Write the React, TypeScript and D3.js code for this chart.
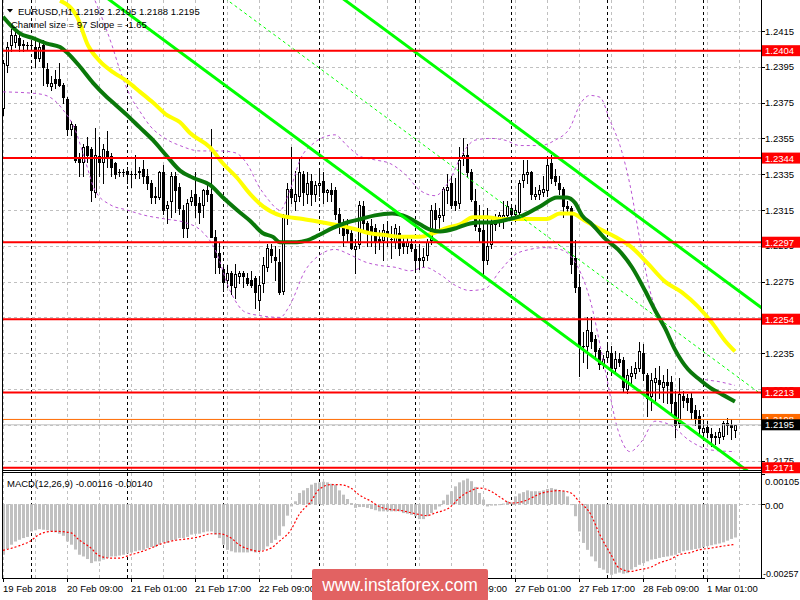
import React from "react";
import * as d3 from "d3";

const W = 800;
const H = 600;

// ---- candle data (EURUSD H1) ----
const opens = [
  1.2372,1.2396,1.2407,1.2409,1.2411,1.2407,1.2407,1.2407,1.2406,1.2400,
  1.2407,1.2394,1.2384,1.2388,1.2388,1.2385,1.2377,1.2360,1.2362,1.2344,
  1.2342,1.2351,1.2349,1.2325,1.2345,1.2342,1.2348,1.2345,1.2341,1.2336,
  1.2336,1.2337,1.2335,1.2335,1.2336,1.2338,1.2334,1.2330,1.2322,1.2322,
  1.2336,1.2316,1.2320,1.2334,1.2328,1.2315,1.2305,1.2320,1.2324,1.2319,
  1.2318,1.2326,1.2324,1.2300,1.2291,1.2282,1.2276,1.2280,1.2272,1.2278,
  1.2280,1.2277,1.2276,1.2277,1.2265,1.2274,1.2283,1.2293,1.2289,1.2286,
  1.2270,1.2312,1.2327,1.2320,1.2323,1.2335,1.2324,1.2331,1.2324,1.2329,
  1.2331,1.2325,1.2326,1.2326,1.2313,1.2307,1.2306,1.2302,1.2293,1.2296,
  1.2317,1.2308,1.2306,1.2305,1.2299,1.2298,1.2303,1.2299,1.2297,1.2302,
  1.2297,1.2295,1.2296,1.2293,1.2288,1.2287,1.2290,1.2298,1.2315,1.2311,
  1.2312,1.2326,1.2330,1.2320,1.2319,1.2344,1.2346,1.2336,1.2320,1.2305,
  1.2304,1.2287,1.2296,1.2307,1.2309,1.2310,1.2312,1.2316,1.2313,1.2314,
  1.2332,1.2335,1.2336,1.2323,1.2324,1.2325,1.2326,1.2341,1.2334,1.2330,
  1.2327,1.2317,1.2316,1.2288,1.2272,1.2239,1.2239,1.2247,1.2243,1.2237,
  1.2229,1.2233,1.2235,1.2227,1.2232,1.2231,1.2215,1.2222,1.2224,1.2227,
  1.2235,1.2223,1.2211,1.2219,1.2220,1.2216,1.2219,1.2219,1.2208,1.2196,
  1.2211,1.2210,1.2210,1.2203,1.2200,1.2191,1.2194,1.2190,1.2188,1.2188,
  1.2189,1.2196,1.2195,1.2192,
];
const highs = [
  1.2399,1.2409,1.2416,1.2416,1.2413,1.2410,1.2409,1.2410,1.2411,1.2410,
  1.2410,1.2397,1.2390,1.2393,1.2397,1.2386,1.2378,1.2365,1.2363,1.2347,
  1.2352,1.2356,1.2350,1.2361,1.2356,1.2352,1.2359,1.2347,1.2342,1.2338,
  1.2338,1.2339,1.2337,1.2346,1.2339,1.2343,1.2338,1.2332,1.2328,1.2337,
  1.2340,1.2320,1.2336,1.2336,1.2330,1.2318,1.2321,1.2326,1.2336,1.2322,
  1.2327,1.2329,1.2360,1.2304,1.2297,1.2283,1.2284,1.2281,1.2285,1.2281,
  1.2281,1.2280,1.2281,1.2278,1.2278,1.2289,1.2296,1.2296,1.2295,1.2293,
  1.2313,1.2330,1.2350,1.2337,1.2344,1.2337,1.2336,1.2335,1.2331,1.2337,
  1.2336,1.2327,1.2330,1.2328,1.2316,1.2310,1.2310,1.2305,1.2299,1.2320,
  1.2320,1.2309,1.2310,1.2307,1.2304,1.2307,1.2309,1.2306,1.2307,1.2306,
  1.2301,1.2300,1.2299,1.2296,1.2296,1.2294,1.2299,1.2318,1.2319,1.2316,
  1.2328,1.2335,1.2334,1.2333,1.2350,1.2355,1.2352,1.2338,1.2327,1.2318,
  1.2315,1.2316,1.2310,1.2313,1.2314,1.2320,1.2320,1.2318,1.2318,1.2332,
  1.2343,1.2343,1.2337,1.2328,1.2329,1.2334,1.2345,1.2346,1.2338,1.2334,
  1.2328,1.2320,1.2317,1.2298,1.2279,1.2247,1.2255,1.2255,1.2245,1.2238,
  1.2234,1.2240,1.2239,1.2236,1.2235,1.2233,1.2226,1.2228,1.2230,1.2241,
  1.2240,1.2224,1.2224,1.2227,1.2228,1.2223,1.2226,1.2222,1.2214,1.2221,
  1.2214,1.2212,1.2213,1.2206,1.2203,1.2196,1.2197,1.2193,1.2191,1.2193,
  1.2197,1.2199,1.2198,1.2195,
];
const lows = [
  1.2368,1.2392,1.2404,1.2406,1.2404,1.2404,1.2405,1.2405,1.2395,1.2398,
  1.2385,1.2384,1.2382,1.2383,1.2384,1.2375,1.2357,1.2357,1.2342,1.2334,
  1.2334,1.2342,1.2320,1.2322,1.2334,1.2330,1.2339,1.2334,1.2333,1.2334,
  1.2334,1.2330,1.2328,1.2333,1.2333,1.2330,1.2327,1.2319,1.2319,1.2321,
  1.2313,1.2308,1.2311,1.2314,1.2313,1.2300,1.2300,1.2318,1.2311,1.2308,
  1.2311,1.2320,1.2300,1.2280,1.2280,1.2270,1.2272,1.2268,1.2266,1.2274,
  1.2272,1.2273,1.2272,1.2260,1.2259,1.2269,1.2281,1.2286,1.2276,1.2268,
  1.2268,1.2307,1.2319,1.2315,1.2320,1.2318,1.2319,1.2318,1.2320,1.2323,
  1.2319,1.2320,1.2320,1.2310,1.2302,1.2295,1.2297,1.2293,1.2280,1.2294,
  1.2303,1.2295,1.2295,1.2291,1.2293,1.2287,1.2295,1.2288,1.2294,1.2290,
  1.2291,1.2291,1.2292,1.2282,1.2282,1.2283,1.2287,1.2296,1.2305,1.2305,
  1.2309,1.2319,1.2316,1.2315,1.2316,1.2340,1.2334,1.2320,1.2304,1.2297,
  1.2278,1.2285,1.2294,1.2304,1.2306,1.2305,1.2310,1.2311,1.2309,1.2312,
  1.2328,1.2330,1.2321,1.2321,1.2321,1.2323,1.2323,1.2330,1.2329,1.2324,
  1.2311,1.2314,1.2280,1.2269,1.2222,1.2230,1.2227,1.2238,1.2233,1.2226,
  1.2227,1.2230,1.2223,1.2225,1.2228,1.2214,1.2213,1.2218,1.2221,1.2225,
  1.2220,1.2200,1.2203,1.2207,1.2210,1.2208,1.2207,1.2201,1.2188,1.2194,
  1.2205,1.2203,1.2198,1.2195,1.2190,1.2187,1.2188,1.2183,1.2184,1.2185,
  1.2187,1.2190,1.2187,1.2188,
];
const closes = [
  1.2397,1.2406,1.2413,1.2413,1.2407,1.2408,1.2407,1.2407,1.2400,1.2406,
  1.2395,1.2386,1.2386,1.2386,1.2385,1.2378,1.2360,1.2363,1.2343,1.2342,
  1.2350,1.2346,1.2326,1.2346,1.2342,1.2349,1.2344,1.2339,1.2335,1.2336,
  1.2336,1.2335,1.2335,1.2335,1.2337,1.2334,1.2330,1.2322,1.2323,1.2336,
  1.2315,1.2318,1.2334,1.2326,1.2316,1.2305,1.2319,1.2322,1.2318,1.2314,
  1.2326,1.2324,1.2300,1.2289,1.2283,1.2275,1.2280,1.2273,1.2279,1.2280,
  1.2278,1.2274,1.2273,1.2269,1.2273,1.2284,1.2294,1.2290,1.2287,1.2269,
  1.2312,1.2327,1.2322,1.2324,1.2336,1.2325,1.2330,1.2324,1.2329,1.2330,
  1.2325,1.2326,1.2324,1.2313,1.2307,1.2301,1.2302,1.2294,1.2295,1.2318,
  1.2308,1.2303,1.2302,1.2297,1.2297,1.2304,1.2302,1.2299,1.2305,1.2294,
  1.2295,1.2297,1.2294,1.2287,1.2287,1.2289,1.2297,1.2315,1.2310,1.2312,
  1.2327,1.2328,1.2318,1.2318,1.2343,1.2346,1.2336,1.2321,1.2306,1.2303,
  1.2287,1.2295,1.2307,1.2310,1.2312,1.2312,1.2317,1.2313,1.2315,1.2330,
  1.2335,1.2336,1.2324,1.2324,1.2326,1.2327,1.2340,1.2333,1.2331,1.2327,
  1.2317,1.2316,1.2285,1.2272,1.2239,1.2239,1.2248,1.2242,1.2236,1.2229,
  1.2232,1.2236,1.2227,1.2232,1.2230,1.2216,1.2223,1.2224,1.2227,1.2236,
  1.2224,1.2210,1.2220,1.2221,1.2218,1.2219,1.2217,1.2207,1.2195,1.2212,
  1.2209,1.2208,1.2202,1.2199,1.2193,1.2193,1.2191,1.2188,1.2189,1.2191,
  1.2196,1.2195,1.2194,1.2195,
];

// ---- MACD(12,26,9) ----
const macdHist = [
  -0.00176,-0.00156,-0.00141,-0.00130,-0.00124,-0.00118,-0.00114,-0.00095,-0.00091,-0.00087,
  -0.00089,-0.00091,-0.00095,-0.00098,-0.00103,-0.00110,-0.00130,-0.00141,-0.00158,-0.00176,
  -0.00182,-0.00191,-0.00205,-0.00199,-0.00199,-0.00193,-0.00187,-0.00182,-0.00182,-0.00179,
  -0.00176,-0.00172,-0.00168,-0.00164,-0.00161,-0.00159,-0.00153,-0.00149,-0.00149,-0.00141,
  -0.00133,-0.00135,-0.00126,-0.00124,-0.00118,-0.00118,-0.00114,-0.00106,-0.00103,-0.00103,
  -0.00098,-0.00095,-0.00095,-0.00106,-0.00118,-0.00141,-0.00159,-0.00164,-0.00168,-0.00168,
  -0.00168,-0.00168,-0.00164,-0.00168,-0.00164,-0.00159,-0.00147,-0.00135,-0.00124,-0.00110,
  -0.00077,-0.00040,-0.00008,0.00010,0.00039,0.00048,0.00056,0.00068,0.00074,0.00076,
  0.00078,0.00076,0.00071,0.00068,0.00048,0.00033,0.00018,0.00004,-0.00013,-0.00010,
  -0.00010,-0.00013,-0.00017,-0.00021,-0.00025,-0.00025,-0.00025,-0.00025,-0.00025,-0.00025,
  -0.00031,-0.00033,-0.00037,-0.00042,-0.00052,-0.00052,-0.00042,-0.00031,-0.00019,-0.00008,
  0.00013,0.00033,0.00045,0.00062,0.00076,0.00083,0.00089,0.00080,0.00060,0.00039,
  0.00016,-0.00008,-0.00005,-0.00005,-0.00002,0.00002,0.00010,0.00006,0.00027,0.00037,
  0.00042,0.00048,0.00045,0.00045,0.00045,0.00048,0.00053,0.00056,0.00053,0.00048,
  0.00045,0.00027,-0.00002,-0.00042,-0.00095,-0.00135,-0.00159,-0.00182,-0.00199,-0.00222,
  -0.00228,-0.00240,-0.00246,-0.00242,-0.00238,-0.00242,-0.00240,-0.00228,-0.00219,-0.00211,
  -0.00205,-0.00199,-0.00193,-0.00191,-0.00187,-0.00184,-0.00182,-0.00179,-0.00176,-0.00170,
  -0.00164,-0.00161,-0.00159,-0.00156,-0.00154,-0.00150,-0.00146,-0.00143,-0.00140,-0.00137,
  -0.00133,-0.00127,-0.00121,-0.00116,
];
// signal line, read at [bar, value]
const macdSignal: [number, number][] = [
  [0,-0.00161],[4,-0.00145],[7,-0.00127],[9,-0.00106],[12,-0.00095],[14,-0.00095],[17,-0.00100],
  [19,-0.00124],[22,-0.00153],[24,-0.00179],[27,-0.00188],[29,-0.00188],[32,-0.00176],[34,-0.00168],
  [37,-0.00153],[39,-0.00141],[43,-0.00126],[46,-0.00121],[49,-0.00114],[52,-0.00103],[54,-0.00103],
  [57,-0.00118],[59,-0.00141],[62,-0.00159],[64,-0.00164],[67,-0.00153],[69,-0.00130],[72,-0.00089],
  [74,-0.00037],[77,0.00010],[79,0.00051],[82,0.00068],[84,0.00068],[87,0.00056],[89,0.00033],
  [92,0.00010],[94,-0.00008],[97,-0.00019],[99,-0.00021],[103,-0.00033],[106,-0.00040],[108,-0.00031],
  [112,-0.00008],[114,0.00021],[117,0.00047],[119,0.00056],[122,0.00045],[124,0.00027],[127,0.00004],
  [129,0.00006],[132,0.00021],[134,0.00035],[137,0.00045],[139,0.00047],[142,0.00039],[144,0.00010],
  [147,-0.00037],[149,-0.00100],[152,-0.00176],[154,-0.00222],[157,-0.00234],[159,-0.00228],
  [162,-0.00219],[164,-0.00205],[167,-0.00191],[169,-0.00176],[172,-0.00168],[174,-0.00159],
  [177,-0.00153],[179,-0.00148],[182,-0.00142],[183,-0.00140],
];

// ---- indicator lines read as [bar, price] ----
const greenMA: [number, number][] = [
  [0,1.2423],[2,1.2418],[4,1.2414],[7.5,1.2411],[11,1.2408],[14.25,1.2406],[16,1.2403],[19.25,1.2395],
  [22.5,1.2386],[26,1.2378],[27.5,1.2375],[31,1.2368],[34.25,1.2361],[37.5,1.2354],[41,1.2345],
  [44.25,1.2337],[47.5,1.2333],[51.75,1.2329],[55,1.2322],[58.5,1.2315],[61.75,1.2309],[65,1.2302],
  [67.5,1.2300],[69.25,1.2297],[73.5,1.2297],[76,1.2298],[79,1.2301],[82.5,1.2305],[86,1.2308],
  [89.5,1.2310],[93,1.2312],[97.25,1.2313],[101,1.2311],[104.25,1.2307],[106.75,1.2304],
  [109.25,1.2303],[113.5,1.2305],[116,1.2307],[118.5,1.2308],[121.75,1.2308],[126.75,1.2310],
  [130,1.2312],[134.25,1.2317],[138.5,1.2322],[141,1.2322],[143,1.2319],[144.75,1.2312],
  [147.25,1.2307],[150.5,1.2299],[153.75,1.2293],[157.25,1.2283],[160.5,1.2270],[163,1.2259],
  [165.5,1.2249],[168,1.2237],[171.25,1.2226],[173.75,1.2221],[177.25,1.2215],[179.75,1.2212],
  [183,1.2208],
];
const yellowMA: [number, number][] = [
  [14.25,1.2432],[18.5,1.2423],[21.25,1.2407],[24.25,1.2398],[27.5,1.2392],[31,1.2387],
  [34.25,1.2381],[37.5,1.2375],[41,1.2368],[44.25,1.2364],[46.75,1.2358],[51.75,1.2350],
  [55,1.2341],[58.5,1.2333],[61.75,1.2324],[65,1.2317],[69.25,1.2312],[75,1.2310],[80,1.2308],
  [85,1.2306],[88.5,1.2304],[91.75,1.2302],[95.5,1.2301],[99.25,1.2300],[104.25,1.2300],
  [107.5,1.2302],[111,1.2305],[114.25,1.2307],[117.5,1.2311],[121,1.2311],[124.25,1.2310],
  [127.5,1.2310],[131,1.2310],[136,1.2310],[139.25,1.2313],[142.25,1.2313],[145.5,1.2309],
  [148.75,1.2305],[153,1.2300],[157.25,1.2294],[161.25,1.2285],[165.5,1.2275],[169.75,1.2269],
  [173.75,1.2261],[177.25,1.2252],[180.5,1.2242],[183,1.2236],
];
const bandUpper: [number, number][] = [
  [23,1.2432],[25.5,1.2418],[27.25,1.2407],[29.25,1.2393],[31.75,1.2379],[34.25,1.2370],
  [36.75,1.2362],[40.5,1.2355],[44.25,1.2351],[49.25,1.2348],[54.25,1.2348],[58,1.2347],
  [61.25,1.2340],[63.75,1.2329],[66.25,1.2321],[69.25,1.2315],[71.75,1.2326],[74.25,1.2343],
  [77.5,1.2352],[80.5,1.2356],[83,1.2357],[86,1.2351],[89.25,1.2345],[93,1.2343],[96.75,1.2341],
  [100.5,1.2335],[104.25,1.2326],[108,1.2323],[111.75,1.2332],[114.75,1.2346],[118,1.2354],
  [121.75,1.2355],[125.5,1.2354],[129.25,1.2351],[134.25,1.2351],[138,1.2354],[141.75,1.2361],
  [144.25,1.2374],[146.75,1.2379],[149.25,1.2378],[151.75,1.2365],[154.25,1.2351],[156.75,1.2329],
  [159.25,1.2298],[161.75,1.2270],[165.5,1.2248],[169.25,1.2231],[174.25,1.2221],[179.25,1.2219],
  [183,1.2217],
];
const bandLower: [number, number][] = [
  [0,1.2381],[8.5,1.2380],[11.75,1.2378],[15,1.2371],[18,1.2360],[20.5,1.2343],[23,1.2326],
  [26.75,1.2318],[31,1.2315],[35.5,1.2312],[40.5,1.2310],[45.5,1.2308],[49.25,1.2304],[53,1.2293],
  [56.75,1.2270],[60.5,1.2258],[64.25,1.2256],[69.25,1.2255],[71.75,1.2262],[75.5,1.2281],
  [79.25,1.2290],[83,1.2293],[86.75,1.2290],[90.5,1.2286],[94.25,1.2284],[98,1.2283],
  [101.75,1.2281],[105.5,1.2283],[109.25,1.2279],[113,1.2273],[116.75,1.2270],[120.5,1.2271],
  [124.25,1.2281],[128,1.2290],[131.75,1.2293],[135.5,1.2294],[139.25,1.2293],[143,1.2286],
  [146.75,1.2265],[150.5,1.2226],[153.75,1.2192],[156.75,1.2180],[159.75,1.2186],[163,1.2197],
  [166.75,1.2195],[171.75,1.2186],[176.75,1.2181],[183,1.2180],
];

// regression channel (lower, middle, upper) as [bar, price] endpoints
const channelLower: [number, number][] = [[0, 1.24763], [190, 1.21628]];
const channelMiddle: [number, number][] = [[0, 1.25248], [190, 1.22113]];
const channelUpper: [number, number][] = [[0, 1.25733], [190, 1.22598]];

const levels = [1.2404, 1.2344, 1.2297, 1.2254, 1.2213, 1.2171];
const orangeLevel = 1.2198;
const bidLevel = 1.2195;
const priceTicks = [1.2415, 1.2395, 1.2375, 1.2355, 1.2335, 1.2315, 1.2295, 1.2275, 1.2255, 1.2235, 1.2215, 1.2195, 1.2175];
const macdTicks = [0.00105, 0.0, -0.00257];
const macdTickLabels = ["0.00105", "0.00", "-0.00257"];
const timeLabels = ["19 Feb 2018", "20 Feb 09:00", "21 Feb 01:00", "21 Feb 17:00", "22 Feb 09:00", "23 Feb 01:00",
  "23 Feb 17:00", "26 Feb 09:00", "27 Feb 01:00", "27 Feb 17:00", "28 Feb 09:00", "1 Mar 01:00"];
const timeLabelBars = [0, 16, 32, 48, 64, 80, 96, 112, 128, 144, 160, 176];
const daySeparatorBars = [7, 31, 55, 79, 103, 127, 151, 175];
const gridBars = d3.range(0, 185, 8);

const FONT = "'Liberation Sans', Arial, sans-serif";

export default function App() {
  const LEFT = 2, RIGHT = 761;
  const MAIN_TOP = 0, MAIN_BOTTOM = 470, MACD_TOP = 473, MACD_BOTTOM = 578;

  const xBar = d3.scaleLinear().domain([0, 183]).range([3, 735]);
  const yP = d3.scaleLinear().domain([1.2175, 1.2415]).range([460.6, 31]);
  const yM = d3.scaleLinear().domain([-0.00257, 0.00105]).range([578, 474]);

  const lineP = d3.line<[number, number]>().x(d => xBar(d[0])).y(d => yP(d[1])).curve(d3.curveMonotoneX);
  const lineStraight = d3.line<[number, number]>().x(d => xBar(d[0])).y(d => yP(d[1]));
  const lineM = d3.line<[number, number]>().x(d => xBar(d[0])).y(d => yM(d[1])).curve(d3.curveMonotoneX);

  const candles = closes.map((c, i) => {
    const o = opens[i];
    const cx = Math.round(xBar(i));
    const top = Math.round(yP(Math.max(o, c)));
    const bot = Math.round(yP(Math.min(o, c)));
    const hy = Math.round(yP(highs[i]));
    const ly = Math.round(yP(lows[i]));
    const bull = c >= o;
    return (
      <g key={i}>
        <line x1={cx + 0.5} x2={cx + 0.5} y1={hy} y2={ly + 1} stroke="#000" strokeWidth={1} />
        {bot - top >= 1 ? (
          <rect x={cx - 0.5} y={top + 0.5} width={2} height={bot - top} fill={bull ? "#fff" : "#000"} stroke="#000" strokeWidth={1} />
        ) : (
          <line x1={cx - 1} x2={cx + 2} y1={top + 0.5} y2={top + 0.5} stroke="#000" strokeWidth={1} />
        )}
      </g>
    );
  });

  const zeroY = yM(0);
  const hist = macdHist.map((v, i) => {
    const cx = Math.round(xBar(i));
    const y = yM(v);
    const y0 = Math.min(y, zeroY), y1 = Math.max(y, zeroY);
    return <rect key={i} x={cx - 1} y={y0} width={3} height={Math.max(1, y1 - y0)} fill="#C0C0C0" />;
  });

  const levelLabel = (p: number, bg: string, fg: string, key: string) => {
    const y = yP(p);
    return (
      <g key={key}>
        <rect x={762} y={y - 5.5} width={38} height={11} fill={bg} />
        <text x={765} y={y + 3.5} fontSize={9.5} fill={fg} fontFamily={FONT}>{p.toFixed(4)}</text>
      </g>
    );
  };

  const macdLabelY = [484.5, zeroY + 4.5, 576.5];

  return (
    <svg width={W} height={H} style={{ position: "absolute", left: 0, top: 0, display: "block", background: "#fff" }}>
      <defs>
        <clipPath id="mainClip"><rect x={LEFT} y={MAIN_TOP} width={RIGHT - LEFT} height={MAIN_BOTTOM - MAIN_TOP} /></clipPath>
        <clipPath id="macdClip"><rect x={LEFT} y={MACD_TOP} width={RIGHT - LEFT} height={MACD_BOTTOM - MACD_TOP} /></clipPath>
      </defs>
      <rect x={0} y={0} width={W} height={H} fill="#fff" />

      {/* grid main */}
      <g clipPath="url(#mainClip)">
        {priceTicks.map(p => (
          <line key={p} x1={LEFT} x2={RIGHT} y1={Math.round(yP(p)) + 0.5} y2={Math.round(yP(p)) + 0.5} stroke="#C0C0C0" strokeDasharray="3,3" />
        ))}
        {gridBars.map(b => (
          <line key={b} x1={Math.round(xBar(b)) + 0.5} x2={Math.round(xBar(b)) + 0.5} y1={MAIN_TOP} y2={MAIN_BOTTOM} stroke="#C0C0C0" strokeDasharray="3,3" />
        ))}
        {daySeparatorBars.map(b => (
          <line key={b} x1={Math.round(xBar(b)) + 0.5} x2={Math.round(xBar(b)) + 0.5} y1={MAIN_TOP} y2={MAIN_BOTTOM} stroke="#000" strokeDasharray="3,3" />
        ))}
      </g>
      {/* grid macd */}
      <g clipPath="url(#macdClip)">
        <line x1={LEFT} x2={RIGHT} y1={Math.round(zeroY) + 0.5} y2={Math.round(zeroY) + 0.5} stroke="#C0C0C0" strokeDasharray="3,3" />
        {gridBars.map(b => (
          <line key={b} x1={Math.round(xBar(b)) + 0.5} x2={Math.round(xBar(b)) + 0.5} y1={MACD_TOP} y2={MACD_BOTTOM} stroke="#C0C0C0" strokeDasharray="3,3" />
        ))}
        {daySeparatorBars.map(b => (
          <line key={b} x1={Math.round(xBar(b)) + 0.5} x2={Math.round(xBar(b)) + 0.5} y1={MACD_TOP} y2={MACD_BOTTOM} stroke="#000" strokeDasharray="3,3" />
        ))}
        {hist}
        <path d={lineM(macdSignal) || ""} fill="none" stroke="#FF0000" strokeWidth={1.2} strokeDasharray="2,2" />
      </g>

      {/* main panel content */}
      <g clipPath="url(#mainClip)">
        {candles}
        <path d={lineP(bandUpper) || ""} fill="none" stroke="#BA55D3" strokeWidth={1} strokeDasharray="3,3" />
        <path d={lineP(bandLower) || ""} fill="none" stroke="#BA55D3" strokeWidth={1} strokeDasharray="3,3" />
        <path d={lineP(yellowMA) || ""} fill="none" stroke="#FFFF00" strokeWidth={4} />
        <path d={lineP(greenMA) || ""} fill="none" stroke="#0A780A" strokeWidth={4} />
        <path d={lineStraight(channelLower) || ""} fill="none" stroke="#00FF00" strokeWidth={3} />
        <path d={lineStraight(channelUpper) || ""} fill="none" stroke="#00FF00" strokeWidth={3} />
        <path d={lineStraight(channelMiddle) || ""} fill="none" stroke="#00FF00" strokeWidth={1} strokeDasharray="3,3" />
        <line x1={LEFT} x2={RIGHT} y1={yP(bidLevel)} y2={yP(bidLevel)} stroke="#C0C0C0" strokeWidth={1} />
        <line x1={LEFT} x2={RIGHT} y1={yP(orangeLevel)} y2={yP(orangeLevel)} stroke="#FF6A00" strokeWidth={1} />
        {levels.map(p => (
          <line key={p} x1={LEFT} x2={RIGHT} y1={yP(p)} y2={yP(p)} stroke="#FF0000" strokeWidth={2} />
        ))}
      </g>

      {/* frames */}
      <line x1={LEFT + 0.5} x2={LEFT + 0.5} y1={0} y2={MACD_BOTTOM} stroke="#000" />
      <line x1={RIGHT + 0.5} x2={RIGHT + 0.5} y1={0} y2={MACD_BOTTOM + 1} stroke="#000" />
      <line x1={LEFT} x2={RIGHT} y1={MAIN_BOTTOM + 0.5} y2={MAIN_BOTTOM + 0.5} stroke="#000" />
      <line x1={LEFT} x2={RIGHT} y1={MACD_TOP - 0.5} y2={MACD_TOP - 0.5} stroke="#000" />
      <line x1={LEFT} x2={RIGHT} y1={MACD_BOTTOM + 0.5} y2={MACD_BOTTOM + 0.5} stroke="#000" />

      {/* right price axis */}
      {priceTicks.map(p => (
        <g key={p}>
          <line x1={RIGHT + 1} x2={RIGHT + 4} y1={Math.round(yP(p)) + 0.5} y2={Math.round(yP(p)) + 0.5} stroke="#000" />
          <text x={765} y={yP(p) + 3.5} fontSize={9.5} fontFamily={FONT} fill="#000">{p.toFixed(4)}</text>
        </g>
      ))}
      {levels.map(p => levelLabel(p, "#FF0000", "#fff", "l" + p))}
      {levelLabel(orangeLevel, "#FF6A00", "#fff", "orange")}
      {levelLabel(bidLevel, "#000", "#fff", "bid")}

      {/* macd axis */}
      {macdTicks.map((v, k) => (
        <g key={k}>
          <line x1={RIGHT + 1} x2={RIGHT + 4} y1={Math.round(yM(v)) + 0.5} y2={Math.round(yM(v)) + 0.5} stroke="#000" />
          <text x={k === 2 ? 763 : 765} y={macdLabelY[k]} fontSize={k === 2 ? 9 : 9.5} fontFamily={FONT} fill="#000">{macdTickLabels[k]}</text>
        </g>
      ))}

      {/* time axis */}
      {timeLabelBars.map((b, k) => (
        <g key={b}>
          <line x1={Math.round(xBar(b)) + 0.5} x2={Math.round(xBar(b)) + 0.5} y1={MACD_BOTTOM} y2={MACD_BOTTOM + 4} stroke="#000" />
          <text x={Math.round(xBar(b))} y={591.5} fontSize={9.5} fontFamily={FONT} fill="#000">{timeLabels[k]}</text>
        </g>
      ))}

      {/* header texts */}
      <path d="M7,9 L13,9 L10,12.5 Z" fill="#000" />
      <text x={18} y={14.5} fontSize={9.5} fontFamily={FONT} fill="#000">EURUSD,H1  1.2192 1.2195 1.2188 1.2195</text>
      <text x={11} y={27.5} fontSize={9.5} fontFamily={FONT} fill="#000">Channel size = 97 Slope = -1.65</text>
      <text x={7} y={486.5} fontSize={9.5} fontFamily={FONT} fill="#000">MACD(12,26,9) -0.00116 -0.00140</text>

      {/* watermark */}
      <rect x={312} y={569} width={176} height={32} rx={2} fill="rgb(226,98,98)" />
      <text x={400} y={591} textAnchor="middle" fontSize={17.5} fontFamily={FONT} fill="#fff">www.instaforex.com</text>
    </svg>
  );
}
